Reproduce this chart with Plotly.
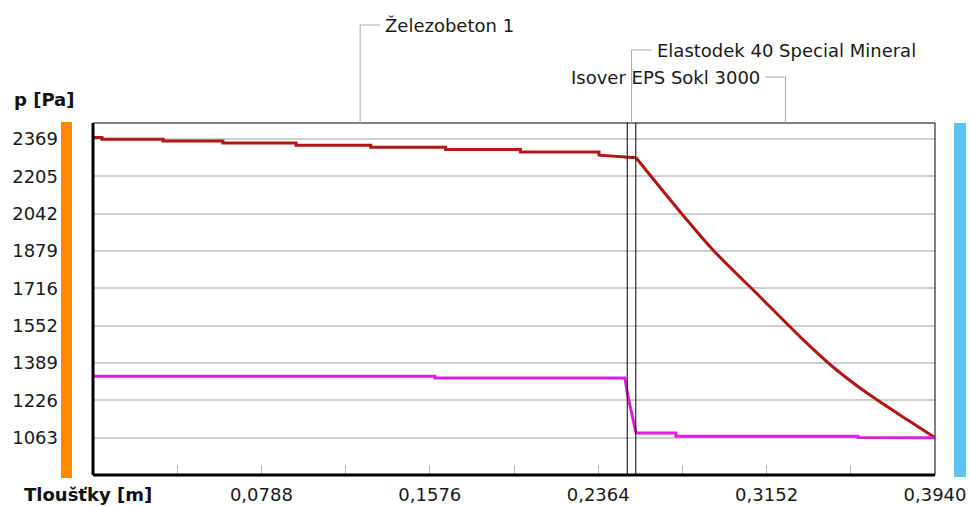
import plotly.graph_objects as go

# Layer build-up (name, thickness in m)
layer_names = ["Železobeton 1", "Elastodek 40 Special Mineral", "Isover EPS Sokl 3000"]
layer_thickness = [0.250, 0.004, 0.140]

# Saturated vapour pressure profile [Pa] - concrete and membrane part
psat_x = [0.0, 0.0042, 0.0042, 0.0328, 0.0328, 0.0608, 0.0608, 0.095, 0.095, 0.130,
          0.130, 0.165, 0.165, 0.200, 0.200, 0.2368, 0.2368, 0.2489, 0.2541]
psat_y = [2375, 2375, 2368, 2368, 2360, 2360, 2351, 2351, 2342, 2342,
          2333, 2333, 2323, 2323, 2312, 2312, 2298, 2292, 2287]

# Saturated vapour pressure profile [Pa] - insulation part
psat_ins_x = [0.2541, 0.2747, 0.2901, 0.3121, 0.3309, 0.3463, 0.3622, 0.3809, 0.394]
psat_ins_y = [2287, 2051, 1884, 1679, 1504, 1372, 1258, 1142, 1063]

# Partial vapour pressure profile [Pa]
p_x = [0.0, 0.160, 0.160, 0.2489, 0.2502, 0.2541, 0.2728, 0.2728, 0.358, 0.358, 0.394]
p_y = [1331, 1331, 1324, 1324, 1250, 1083, 1083, 1069, 1069, 1064, 1063]

# Axis ticks
y_ticks = [1063, 1226, 1389, 1552, 1716, 1879, 2042, 2205, 2369]
x_ticks = [0.0394, 0.0788, 0.1182, 0.1576, 0.1970, 0.2364, 0.2758, 0.3152, 0.3546, 0.3940]
x_ticktext = ["", "0,0788", "", "0,1576", "", "0,2364", "", "0,3152", "", "0,3940"]

total = sum(layer_thickness)
y_min, y_max = 899.75, 2438.9

W, H = 970, 506
ML, MR, MT, MB = 93, 35, 123, 31
plot_w = W - ML - MR
plot_h = H - MT - MB


def px_x(px):
    """Horizontal pixel position -> paper fraction."""
    return (px - ML) / plot_w


def px_y(py):
    """Vertical pixel position (from top) -> paper fraction."""
    return (H - MB - py) / plot_h


FONT = "DejaVu Sans"
RED = "#b31414"
fig = go.Figure()

fig.add_trace(go.Scatter(x=psat_x, y=psat_y, mode="lines",
                         line=dict(color=RED, width=3), hoverinfo="skip"))
fig.add_trace(go.Scatter(x=psat_ins_x, y=psat_ins_y, mode="lines",
                         line=dict(color=RED, width=3, shape="spline", smoothing=0.8),
                         hoverinfo="skip"))
fig.add_trace(go.Scatter(x=p_x, y=p_y, mode="lines",
                         line=dict(color="#dd1fdd", width=3), hoverinfo="skip"))

shapes = []
# interior / exterior side bars
shapes.append(dict(type="rect", xref="paper", yref="paper",
                   x0=px_x(61), x1=px_x(72), y0=px_y(478), y1=px_y(122),
                   fillcolor="#ff8a00", line=dict(width=0), layer="above"))
shapes.append(dict(type="rect", xref="paper", yref="paper",
                   x0=px_x(954), x1=px_x(966), y0=px_y(477), y1=px_y(123),
                   fillcolor="#5cc2f2", line=dict(width=0), layer="above"))

# plot frame
shapes.append(dict(type="line", xref="paper", yref="paper", x0=0, x1=1, y0=1, y1=1,
                   line=dict(color="black", width=1)))
shapes.append(dict(type="line", xref="paper", yref="paper", x0=1, x1=1, y0=0, y1=1,
                   line=dict(color="black", width=1)))
shapes.append(dict(type="line", xref="paper", yref="paper", x0=0, x1=0, y0=0, y1=1,
                   line=dict(color="black", width=3)))
shapes.append(dict(type="line", xref="paper", yref="paper", x0=0, x1=1, y0=0, y1=0,
                   line=dict(color="black", width=3)))

# layer boundaries and labels with leader lines
bounds = [0.0]
for t in layer_thickness:
    bounds.append(bounds[-1] + t)
for b in bounds[1:-1]:
    shapes.append(dict(type="line", xref="x", yref="paper", x0=b, x1=b, y0=0, y1=1,
                       line=dict(color="black", width=1)))

label_rows = [25, 50, 77]           # vertical pixel rows of the labels
label_side = [1, 1, -1]             # leader elbow direction
annotations = []
for name, x0, x1, row, side in zip(layer_names, bounds[:-1], bounds[1:], label_rows, label_side):
    mid = (x0 + x1) / 2
    yp = px_y(row)
    shapes.append(dict(type="line", xref="x", yref="paper", x0=mid, x1=mid, y0=1, y1=yp,
                       line=dict(color="#a8a8a8", width=1)))
    shapes.append(dict(type="line", xref="x", yref="paper", xsizemode="pixel", xanchor=mid,
                       x0=0, x1=20 * side, y0=yp, y1=yp,
                       line=dict(color="#a8a8a8", width=1)))
    annotations.append(dict(xref="x", yref="paper", x=mid, y=yp, text=name,
                            showarrow=False, xanchor="left" if side > 0 else "right",
                            yanchor="middle", xshift=23 * side,
                            font=dict(family=FONT, size=18, color="#1a1a1a")))

annotations.append(dict(xref="paper", yref="paper", x=px_x(12), y=px_y(99),
                        text="<b>p [Pa]</b>", showarrow=False, xanchor="left",
                        yanchor="middle", font=dict(family=FONT, size=18, color="#111")))
annotations.append(dict(xref="paper", yref="paper", x=px_x(22), y=px_y(494),
                        text="<b>Tloušťky [m]</b>", showarrow=False, xanchor="left",
                        yanchor="middle", font=dict(family=FONT, size=18, color="#111")))

fig.update_layout(
    width=W, height=H,
    margin=dict(l=ML, r=MR, t=MT, b=MB),
    paper_bgcolor="white", plot_bgcolor="white",
    showlegend=False,
    font=dict(family=FONT, size=18, color="#1a1a1a"),
    shapes=shapes, annotations=annotations,
    xaxis=dict(range=[0, total], tickvals=x_ticks, ticktext=x_ticktext,
               ticks="inside", ticklen=10, tickcolor="#b4b4b4", tickwidth=1,
               showgrid=False, zeroline=False, showline=False, automargin=False,
               tickfont=dict(family=FONT, size=18, color="#1a1a1a"),
               ticklabelstandoff=7, fixedrange=True),
    yaxis=dict(range=[y_min, y_max], tickvals=y_ticks, ticktext=[str(v) for v in y_ticks],
               ticks="", showgrid=True, gridcolor="#cfcfcf", gridwidth=1.5,
               zeroline=False, showline=False, automargin=False,
               tickfont=dict(family=FONT, size=18, color="#1a1a1a"),
               ticklabelstandoff=34, fixedrange=True),
)

fig.write_html("out.html")
